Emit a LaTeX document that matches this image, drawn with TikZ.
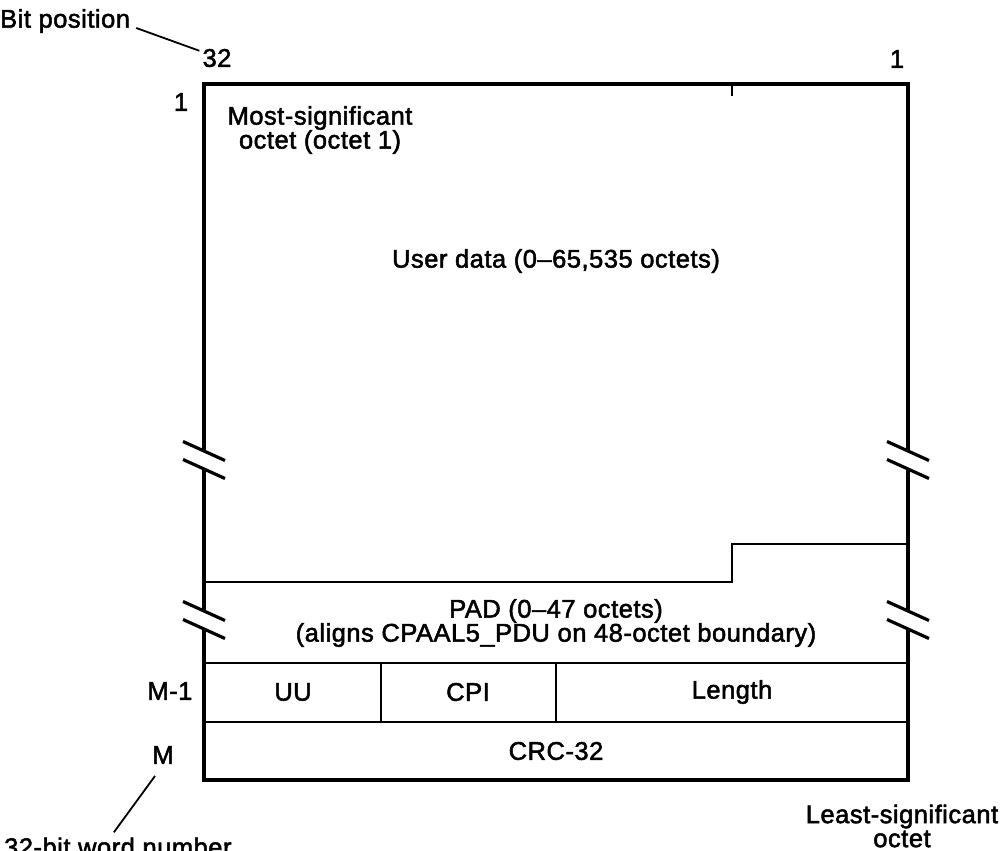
\documentclass[tikz,border=0pt]{standalone}
\usepackage{fontspec}
\setmainfont{Liberation Sans}
\newfontfamily\lblfont{Liberation Sans}[FakeBold=2,LetterSpace=2]
\begin{document}
\begin{tikzpicture}[x=1pt,y=-1pt,
  lbl/.style={font=\lblfont\fontsize{25.5}{24}\selectfont, inner sep=0pt},
  outer/.style={line width=3.8pt, line join=miter},
  inner/.style={line width=2.6pt},
  leader/.style={line width=1.8pt},
  brk/.pic={
    \fill[white] (-21,-18.5) -- (21,0.5) -- (21,18.5) -- (-21,-0.5) -- cycle;
    \draw[line width=3.2pt] (-21,-18.5) -- (21,0.5);
    \draw[line width=3.2pt] (-21,-0.5) -- (21,18.5);
  }]
\useasboundingbox (0,0) rectangle (1004,851);
% frame
\draw[outer] (204,84) rectangle (908,780);
% user data boundary (step)
\draw[inner] (204,582) -- (732,582) -- (732,544) -- (908,544);
\draw[inner] (204,663) -- (908,663);
\draw[inner] (204,722) -- (908,722);
\draw[inner] (381,663) -- (381,722);
\draw[inner] (556,663) -- (556,722);
\draw[line width=1.8pt] (732,84) -- (732,96);
% breaks
\pic at (204,460) {brk};
\pic at (204,620) {brk};
\pic at (908,460) {brk};
\pic at (908,620) {brk};
% labels
\node[lbl, anchor=west] (bitpos) at (0,21) {Bit position};
\node[lbl] (b32) at (217,58) {32};
\node[lbl] (b1) at (897,59) {1};
\node[lbl] (w1) at (181,102) {1};
\node[lbl, align=center] (msb) at (320,130) {Most-significant\\octet (octet 1)};
\node[lbl] (user) at (556,261) {User data (0–65,535 octets)};
\node[lbl, align=center] (pad) at (556,623) {PAD (0–47 octets)\\(aligns CPAAL5\_PDU on 48-octet boundary)};
\node[lbl] (uu) at (293,692) {UU};
\node[lbl] (cpi) at (468,692) {CPI};
\node[lbl] (len) at (732,692) {Length};
\node[lbl] (crc) at (556,751) {CRC-32};
\node[lbl] (wm1) at (170,691) {M-1};
\node[lbl] (wm) at (163,755) {M};
\node[lbl, anchor=base west] (wnum) at (4,856) {32-bit word number};
\node[lbl, align=center] (lso) at (902,826) {Least-significant\\octet};
% leaders
\draw[leader] ([xshift=6pt,yshift=-7pt]bitpos.east) -- ([xshift=-3pt,yshift=-2pt]b32.north west);
\draw[leader] ([xshift=-8pt,yshift=-12pt]wm.south) -- ([xshift=-4pt,yshift=5pt]wnum.north);
\end{tikzpicture}
\end{document}
